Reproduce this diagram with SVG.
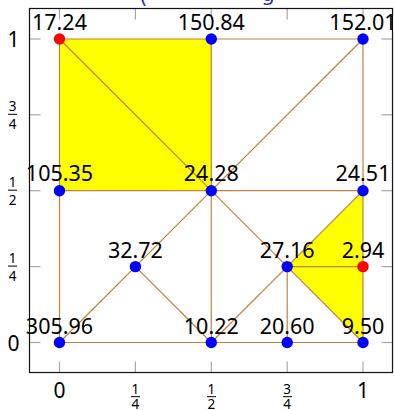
<svg xmlns="http://www.w3.org/2000/svg" width="394" height="410" viewBox="0 0 394 410">
<style>
.edge{stroke:#BF8040;stroke-width:1.2;fill:none}
.fill{fill:#FFFF00;stroke:none}
.tick{stroke:#A8A8A8;stroke-width:1.2}
.frame{fill:none;stroke:#111;stroke-width:1.2}
.lbl{font-family:"Noto Sans","DejaVu Sans",sans-serif;font-size:21.5px;fill:#000;text-anchor:middle}
.tl{font-family:"Noto Sans","DejaVu Sans",sans-serif;font-size:21px;fill:#000;text-anchor:middle}
.fr{font-family:"Noto Sans","DejaVu Sans",sans-serif;font-size:13.5px;fill:#000;text-anchor:middle}
.bar{stroke:#000;stroke-width:1}
.blue{fill:#0000FF}
.red{fill:#FF0000}
.title{font-family:"DejaVu Sans",sans-serif;font-size:22px;fill:#3333BB}
</style>
<rect width="394" height="410" fill="#fff"/>
<text class="title"><tspan x="139" y="3">(</tspan><tspan x="261" y="0.5">g</tspan></text>
<g id="fills">
<polygon class="fill" points="59.5,39 211.3,39 211.3,190.7 59.5,190.7"/>
<polygon class="fill" points="287.2,266.6 363,190.7 363,342.5"/>
</g>
<g id="ticks">
<line class="tick" x1="59.5" y1="372.5" x2="59.5" y2="361.5"/>
<line class="tick" x1="135.4" y1="372.5" x2="135.4" y2="361.5"/>
<line class="tick" x1="211.3" y1="372.5" x2="211.3" y2="361.5"/>
<line class="tick" x1="287.2" y1="372.5" x2="287.2" y2="361.5"/>
<line class="tick" x1="363" y1="372.5" x2="363" y2="361.5"/>
<line class="tick" x1="59.5" y1="8.5" x2="59.5" y2="19.5"/>
<line class="tick" x1="135.4" y1="8.5" x2="135.4" y2="19.5"/>
<line class="tick" x1="211.3" y1="8.5" x2="211.3" y2="19.5"/>
<line class="tick" x1="287.2" y1="8.5" x2="287.2" y2="19.5"/>
<line class="tick" x1="363" y1="8.5" x2="363" y2="19.5"/>
<line class="tick" x1="29.5" y1="39" x2="40.5" y2="39"/>
<line class="tick" x1="29.5" y1="114.8" x2="40.5" y2="114.8"/>
<line class="tick" x1="29.5" y1="190.7" x2="40.5" y2="190.7"/>
<line class="tick" x1="29.5" y1="266.6" x2="40.5" y2="266.6"/>
<line class="tick" x1="29.5" y1="342.5" x2="40.5" y2="342.5"/>
<line class="tick" x1="392.5" y1="39" x2="381.5" y2="39"/>
<line class="tick" x1="392.5" y1="114.8" x2="381.5" y2="114.8"/>
<line class="tick" x1="392.5" y1="190.7" x2="381.5" y2="190.7"/>
<line class="tick" x1="392.5" y1="266.6" x2="381.5" y2="266.6"/>
<line class="tick" x1="392.5" y1="342.5" x2="381.5" y2="342.5"/>
</g>
<g id="connectors">
<line class="edge" x1="59.5" y1="39" x2="211.3" y2="39"/>
<line class="edge" x1="211.3" y1="39" x2="363" y2="39"/>
<line class="edge" x1="59.5" y1="39" x2="59.5" y2="190.7"/>
<line class="edge" x1="59.5" y1="39" x2="211.3" y2="190.7"/>
<line class="edge" x1="211.3" y1="39" x2="211.3" y2="190.7"/>
<line class="edge" x1="363" y1="39" x2="211.3" y2="190.7"/>
<line class="edge" x1="363" y1="39" x2="363" y2="190.7"/>
<line class="edge" x1="59.5" y1="190.7" x2="211.3" y2="190.7"/>
<line class="edge" x1="211.3" y1="190.7" x2="363" y2="190.7"/>
<line class="edge" x1="59.5" y1="190.7" x2="59.5" y2="342.5"/>
<line class="edge" x1="211.3" y1="190.7" x2="135.4" y2="266.6"/>
<line class="edge" x1="211.3" y1="190.7" x2="211.3" y2="342.5"/>
<line class="edge" x1="211.3" y1="190.7" x2="287.2" y2="266.6"/>
<line class="edge" x1="363" y1="190.7" x2="287.2" y2="266.6"/>
<line class="edge" x1="363" y1="190.7" x2="363" y2="266.6"/>
<line class="edge" x1="363" y1="266.6" x2="363" y2="342.5"/>
<line class="edge" x1="287.2" y1="266.6" x2="363" y2="266.6"/>
<line class="edge" x1="287.2" y1="266.6" x2="363" y2="342.5"/>
<line class="edge" x1="287.2" y1="266.6" x2="287.2" y2="342.5"/>
<line class="edge" x1="287.2" y1="266.6" x2="211.3" y2="342.5"/>
<line class="edge" x1="135.4" y1="266.6" x2="59.5" y2="342.5"/>
<line class="edge" x1="135.4" y1="266.6" x2="211.3" y2="342.5"/>
<line class="edge" x1="59.5" y1="342.5" x2="211.3" y2="342.5"/>
<line class="edge" x1="211.3" y1="342.5" x2="287.2" y2="342.5"/>
<line class="edge" x1="287.2" y1="342.5" x2="363" y2="342.5"/>
</g>
<rect class="frame" x="29.5" y="8.5" width="363" height="364"/>
<g id="n-0-1"><circle class="red" cx="59.5" cy="39" r="5.7"/><text class="lbl" x="59.5" y="29.5">17.24</text></g>
<g id="n-05-1"><circle class="blue" cx="211.3" cy="39" r="5.7"/><text class="lbl" x="211.3" y="29.5">150.84</text></g>
<g id="n-1-1"><circle class="blue" cx="363" cy="39" r="5.7"/><text class="lbl" x="363" y="29.5">152.01</text></g>
<g id="n-0-05"><circle class="blue" cx="59.5" cy="190.7" r="5.7"/><text class="lbl" x="59.5" y="181.2">105.35</text></g>
<g id="n-05-05"><circle class="blue" cx="211.3" cy="190.7" r="5.7"/><text class="lbl" x="211.3" y="181.2">24.28</text></g>
<g id="n-1-05"><circle class="blue" cx="363" cy="190.7" r="5.7"/><text class="lbl" x="363" y="181.2">24.51</text></g>
<g id="n-025-025"><circle class="blue" cx="135.4" cy="266.6" r="5.7"/><text class="lbl" x="135.4" y="257.8">32.72</text></g>
<g id="n-075-025"><circle class="blue" cx="287.2" cy="266.6" r="5.7"/><text class="lbl" x="287.2" y="257.8">27.16</text></g>
<g id="n-1-025"><circle class="red" cx="363" cy="266.6" r="5.7"/><text class="lbl" x="363" y="257.8">2.94</text></g>
<g id="n-0-0"><circle class="blue" cx="59.5" cy="342.5" r="5.7"/><text class="lbl" x="59.5" y="333.5">305.96</text></g>
<g id="n-05-0"><circle class="blue" cx="211.3" cy="342.5" r="5.7"/><text class="lbl" x="211.3" y="333.5">10.22</text></g>
<g id="n-075-0"><circle class="blue" cx="287.2" cy="342.5" r="5.7"/><text class="lbl" x="287.2" y="333.5">20.60</text></g>
<g id="n-1-0"><circle class="blue" cx="363" cy="342.5" r="5.7"/><text class="lbl" x="363" y="333.5">9.50</text></g>
<g id="ytick-labels">
<text class="tl" x="13.5" y="47">1</text>
<text class="tl" x="13.5" y="350.5">0</text>
<text class="fr" x="12.5" y="110.5">3</text><line class="bar" x1="8" y1="114.3" x2="17" y2="114.3"/><text class="fr" x="12.5" y="128.5">4</text>
<text class="fr" x="12.5" y="186.5">1</text><line class="bar" x1="8" y1="190.2" x2="17" y2="190.2"/><text class="fr" x="12.5" y="204.5">2</text>
<text class="fr" x="12.5" y="262.5">1</text><line class="bar" x1="8" y1="266.1" x2="17" y2="266.1"/><text class="fr" x="12.5" y="280.5">4</text>
</g>
<g id="xtick-labels">
<text class="tl" x="59.5" y="397.5">0</text>
<text class="fr" x="135.4" y="393.5">1</text><line class="bar" x1="131" y1="396.7" x2="140" y2="396.7"/><text class="fr" x="135.4" y="408.5">4</text>
<text class="fr" x="211.3" y="393.5">1</text><line class="bar" x1="207" y1="396.7" x2="216" y2="396.7"/><text class="fr" x="211.3" y="408.5">2</text>
<text class="fr" x="287.2" y="393.5">3</text><line class="bar" x1="283" y1="396.7" x2="292" y2="396.7"/><text class="fr" x="287.2" y="408.5">4</text>
<text class="tl" x="363" y="397.5">1</text>
</g>
</svg>
